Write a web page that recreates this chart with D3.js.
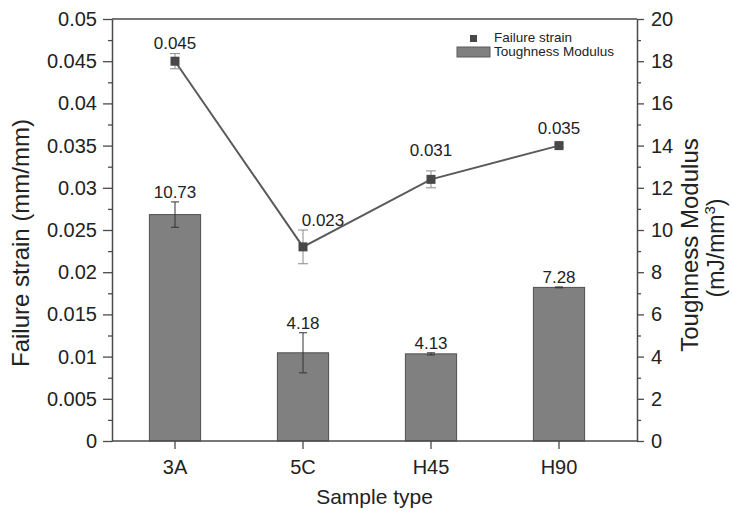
<!DOCTYPE html>
<html>
<head>
<meta charset="utf-8">
<script src="https://cdn.jsdelivr.net/npm/d3@7"></script>
<style>
  html, body { margin: 0; padding: 0; background: #fff; }
  svg { display: block; font-family: "Liberation Sans", Arial, sans-serif; }
</style>
</head>
<body>
<svg id="chart" width="732" height="520"></svg>
<script>
// ---- data ----
const categories = ["3A", "5C", "H45", "H90"];
const toughness = [10.73, 4.18, 4.13, 7.28];          // mJ/mm^3 (right axis, bars)
const toughnessErr = [0.6, 0.95, 0.05, 0.02];
const strain = [0.045, 0.023, 0.031, 0.035];           // mm/mm (left axis, line)
const strainErr = [0.0009, 0.002, 0.001, 0.0002];
const leftTicks = [0, 0.005, 0.01, 0.015, 0.02, 0.025, 0.03, 0.035, 0.04, 0.045, 0.05];
const leftTickLabels = ["0", "0.005", "0.01", "0.015", "0.02", "0.025", "0.03", "0.035", "0.04", "0.045", "0.05"];
const rightTicks = [0, 2, 4, 6, 8, 10, 12, 14, 16, 18, 20];
const legendLabels = ["Failure strain", "Toughness Modulus"];

// ---- layout ----
const svg = d3.select("#chart");
const L = 112, R = 637, T = 19, B = 441;
const axisColor = "#4a4a4a";

const x = d3.scaleBand().domain(categories).range([111, 623]).paddingInner(0.6).paddingOuter(0.3);
const yL = d3.scaleLinear().domain([0, 0.05]).range([B, T]);
const yR = d3.scaleLinear().domain([0, 20]).range([B, T]);
const cx = c => x(c) + x.bandwidth() / 2;

// bars
const bars = categories.map((c, i) => ({c, v: toughness[i], e: toughnessErr[i]}));
svg.append("g").selectAll("rect").data(bars).join("rect")
  .attr("x", d => x(d.c)).attr("width", x.bandwidth())
  .attr("y", d => yR(d.v)).attr("height", d => yR(0) - yR(d.v))
  .attr("fill", "#808080").attr("stroke", "#4f4f4f").attr("stroke-width", 1);

// bar error bars
const be = svg.append("g").attr("stroke", "#333").attr("stroke-width", 1);
bars.forEach(d => {
  const xc = cx(d.c);
  be.append("line").attr("x1", xc).attr("x2", xc).attr("y1", yR(d.v - d.e)).attr("y2", yR(d.v + d.e));
  [d.v - d.e, d.v + d.e].forEach(v => be.append("line").attr("x1", xc - 4).attr("x2", xc + 4).attr("y1", yR(v)).attr("y2", yR(v)));
});

// bar labels
svg.append("g").selectAll("text").data(bars).join("text")
  .attr("x", d => cx(d.c)).attr("y", d => yR(d.v + d.e) - 4)
  .attr("text-anchor", "middle").attr("font-size", 17).attr("fill", "#222")
  .text(d => d.v.toFixed(2));

// line
const pts = categories.map((c, i) => ({c, v: strain[i], e: strainErr[i]}));
svg.append("path").datum(pts)
  .attr("d", d3.line().x(d => cx(d.c)).y(d => yL(d.v)))
  .attr("fill", "none").attr("stroke", "#5a5a5a").attr("stroke-width", 2);

// line error bars
const le = svg.append("g").attr("stroke", "#8a8a8a").attr("stroke-width", 1);
pts.forEach(d => {
  const xc = cx(d.c);
  le.append("line").attr("x1", xc).attr("x2", xc).attr("y1", yL(d.v - d.e)).attr("y2", yL(d.v + d.e));
  [d.v - d.e, d.v + d.e].forEach(v => le.append("line").attr("x1", xc - 5).attr("x2", xc + 5).attr("y1", yL(v)).attr("y2", yL(v)));
});

// markers
const ms = 9;
svg.append("g").selectAll("rect").data(pts).join("rect")
  .attr("x", d => cx(d.c) - ms / 2).attr("y", d => yL(d.v) - ms / 2)
  .attr("width", ms).attr("height", ms).attr("fill", "#484848");

// line labels (a couple nudged to avoid the line)
const labelNudge = {"5C": [20, 0], "H45": [0, -11]};
svg.append("g").selectAll("text").data(pts).join("text")
  .attr("x", d => cx(d.c) + (labelNudge[d.c] ? labelNudge[d.c][0] : 0))
  .attr("y", d => Math.min(yL(d.v) - 12, yL(d.v + d.e) - 4) + (labelNudge[d.c] ? labelNudge[d.c][1] : 0))
  .attr("text-anchor", "middle").attr("font-size", 17).attr("fill", "#222")
  .text(d => d.v.toFixed(3));

// ---- axes ----
function styleAxis(g) {
  g.select(".domain").attr("stroke", axisColor).attr("stroke-width", 1.5);
  g.selectAll(".tick line").attr("stroke", axisColor).attr("stroke-width", 1.3);
  g.selectAll(".tick text").attr("fill", "#222").attr("font-size", 20)
    .attr("font-family", "'Liberation Sans', Arial, sans-serif");
}
const mids = arr => arr.slice(1).map((v, i) => (v + arr[i]) / 2);

// left
svg.append("g").attr("transform", `translate(${L},0)`)
  .call(d3.axisLeft(yL).tickValues(leftTicks).tickFormat((d, i) => leftTickLabels[i]).tickSize(9).tickPadding(6).tickSizeOuter(0))
  .call(styleAxis);
svg.append("g").attr("transform", `translate(${L},0)`)
  .call(d3.axisLeft(yL).tickValues(mids(leftTicks)).tickFormat("").tickSize(4).tickSizeOuter(0))
  .call(styleAxis).call(g => g.select(".domain").remove());

// right
svg.append("g").attr("transform", `translate(${R},0)`)
  .call(d3.axisRight(yR).tickValues(rightTicks).tickFormat(d => d).tickSize(7).tickPadding(7).tickSizeOuter(0))
  .call(styleAxis);
svg.append("g").attr("transform", `translate(${R},0)`)
  .call(d3.axisRight(yR).tickValues(mids(rightTicks)).tickFormat("").tickSize(4).tickSizeOuter(0))
  .call(styleAxis).call(g => g.select(".domain").remove());

// bottom
const bottom = svg.append("g").attr("transform", `translate(0,${B})`)
  .call(d3.axisBottom(x).tickSize(8).tickPadding(11).tickSizeOuter(0))
  .call(styleAxis);
bottom.select(".domain").attr("d", `M${L},0H${R}`);

// top frame line
svg.append("line").attr("x1", L).attr("x2", R).attr("y1", T).attr("y2", T)
  .attr("stroke", axisColor).attr("stroke-width", 1.5);

// ---- titles ----
svg.append("text").attr("x", (L + R) / 2).attr("y", 504).attr("text-anchor", "middle")
  .attr("font-size", 21).attr("fill", "#222").text("Sample type");
svg.append("text").attr("transform", "translate(29,243) rotate(-90)").attr("text-anchor", "middle")
  .attr("font-size", 24).attr("fill", "#222").text("Failure strain (mm/mm)");
svg.append("text").attr("transform", "translate(698,245) rotate(-90)").attr("text-anchor", "middle")
  .attr("font-size", 24).attr("fill", "#222").text("Toughness Modulus");
const t2 = svg.append("text").attr("transform", "translate(724,248) rotate(-90)").attr("text-anchor", "middle")
  .attr("font-size", 23).attr("fill", "#222");
t2.append("tspan").text("(mJ/mm");
t2.append("tspan").attr("dy", -9).attr("font-size", 15).text("3");
t2.append("tspan").attr("dy", 9).text(")");

// ---- legend ----
const lg = svg.append("g").attr("font-size", 13.5).attr("fill", "#222");
lg.append("rect").attr("x", 470).attr("y", 35).attr("width", 7).attr("height", 7).attr("fill", "#484848");
lg.append("text").attr("x", 494).attr("y", 42).text(legendLabels[0]);
lg.append("rect").attr("x", 457).attr("y", 47).attr("width", 33).attr("height", 10)
  .attr("fill", "#808080").attr("stroke", "#5a5a5a");
lg.append("text").attr("x", 494).attr("y", 56).text(legendLabels[1]);
</script>
</body>
</html>
